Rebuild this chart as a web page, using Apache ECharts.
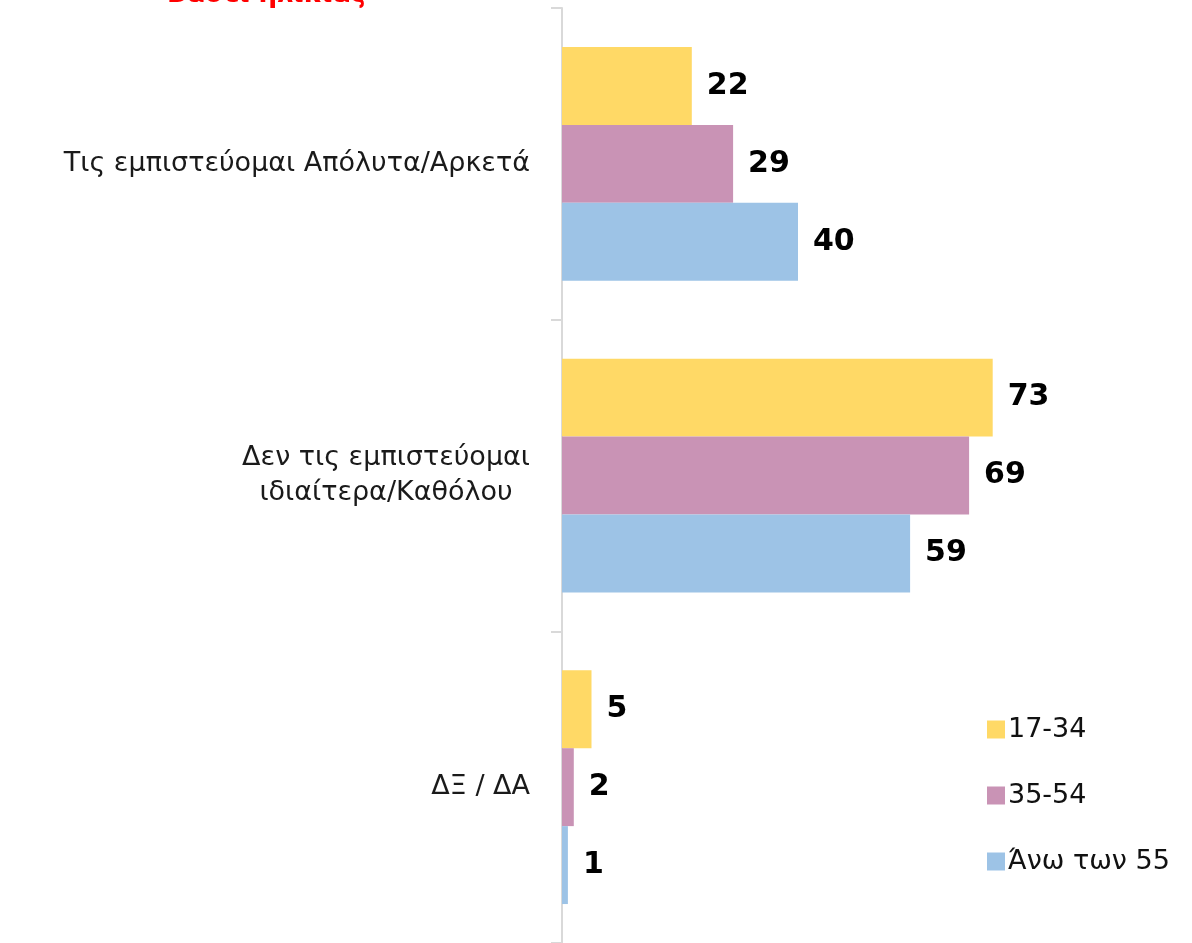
<!DOCTYPE html>
<html>
<head>
<meta charset="utf-8">
<script src="https://cdn.jsdelivr.net/npm/echarts@6/dist/echarts.min.js"></script>
<style>
    html, body { margin: 0; padding: 0; background: #fff; }
    #chart { width: 1192px; height: 943px; }
</style>
</head>
<body>
<div id="chart"></div>
<script>
var categories = ['Τις εμπιστεύομαι Απόλυτα/Αρκετά', 'Δεν τις εμπιστεύομαι\nιδιαίτερα/Καθόλου', 'ΔΞ / ΔΑ'];
var seriesNames = ['17-34', '35-54', 'Άνω των 55'];
var age17_34 = [22, 73, 5];
var age35_54 = [29, 69, 2];
var age55plus = [40, 59, 1];
var colors = ['#FFD966', '#C993B5', '#9DC3E6'];

var myChart = echarts.init(document.getElementById('chart'));
var fontFam = 'DejaVu Sans';

function makeSeries(name, data, color) {
    return {
        name: name,
        type: 'bar',
        data: data,
        barGap: '0%',
        barCategoryGap: '25%',
        itemStyle: { color: color },
        label: {
            show: true,
            position: 'right',
            distance: 15,
            color: '#000',
            fontWeight: 'bold',
            fontSize: 30,
            fontFamily: fontFam
        }
    };
}

var option = {
    animation: false,
    backgroundColor: '#fff',
    title: {
        text: 'Βάσει ηλικίας',
        left: 162,
        top: -23,
        textStyle: {
            color: '#FF0000',
            fontWeight: 'bold',
            fontSize: 26,
            fontFamily: fontFam
        }
    },
    legend: {
        orient: 'vertical',
        left: 982,
        top: 711,
        itemWidth: 18,
        itemHeight: 18,
        itemGap: 39,
        icon: 'rect',
        data: seriesNames,
        textStyle: {
            color: '#111',
            fontSize: 27,
            padding: [0, 0, 0, -2],
            fontFamily: fontFam
        }
    },
    grid: {
        left: 562,
        right: 40,
        top: 8,
        bottom: 0,
        containLabel: false
    },
    xAxis: {
        type: 'value',
        min: 0,
        max: 100,
        show: false
    },
    yAxis: {
        type: 'category',
        inverse: true,
        data: categories,
        axisLine: { show: true, lineStyle: { color: '#D9D9D9', width: 2 } },
        axisTick: { show: true, length: 11, lineStyle: { color: '#D9D9D9', width: 2 } },
        axisLabel: {
            margin: 32,
            color: '#1a1a1a',
            fontSize: 27,
            fontFamily: fontFam,
            lineHeight: 35,
            formatter: function (v) {
                if (v.indexOf('\n') >= 0) {
                    return v.split('\n').map(function (s) { return '{c|' + s + '}'; }).join('\n');
                }
                return v;
            },
            rich: {
                c: { align: 'center', fontSize: 27, fontFamily: fontFam, color: '#1a1a1a', lineHeight: 35 }
            }
        }
    },
    series: [
        makeSeries(seriesNames[0], age17_34, colors[0]),
        makeSeries(seriesNames[1], age35_54, colors[1]),
        makeSeries(seriesNames[2], age55plus, colors[2])
    ]
};
myChart.setOption(option);
</script>
</body>
</html>
